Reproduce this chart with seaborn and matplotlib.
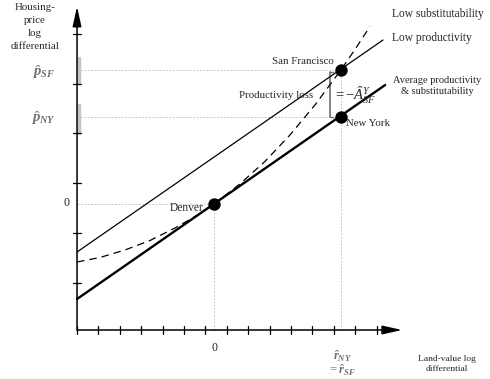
import matplotlib
matplotlib.use("Agg")
import matplotlib.pyplot as plt
import seaborn as sns
import pandas as pd

# -------------------------------------------------
# Data (x: land-value log differential, y: housing-price log differential)
# -------------------------------------------------
city_names = ["Denver", "New York", "San Francisco"]
city_x = [0.0, 5.93, 5.93]
city_y = [0.0, 1.74, 2.68]

avg_x = [-6.4, 8.0]
avg_y = [-1.90, 2.38]

lowprod_x = [-6.4, 7.9]
lowprod_y = [-0.96, 3.28]

lowsub_x = [-6.4, -5.33, -4.16, -2.99, -1.82, -0.65, 0.0, 1.21, 2.38, 3.55, 4.72, 5.93, 6.59, 7.29]
lowsub_y = [-1.16, -1.07, -0.92, -0.73, -0.48, -0.19, 0.0, 0.40, 0.85, 1.38, 1.98, 2.68, 3.09, 3.55]

axis_x0 = -6.4
axis_y0 = -2.52
axis_x_end = 8.8
axis_y_end = 3.95

x_ticks = [-6.4, -5.4, -4.4, -3.4, -2.4, -1.4, -0.4, 0.6, 1.6, 2.6, 3.6, 4.6, 5.6, 6.6, 7.6]
y_ticks = [-1.58, -0.58, 0.42, 1.42, 2.4, 3.4]

loss_x = 5.42
loss_y = [1.74, 2.64]

# gray bars on the y axis around the price differentials
bar_sf = [2.42, 2.92]
bar_ny = [1.42, 1.98]

W, H = 490, 379


def fx(px):
    return px / W


def fy(py):
    return 1 - py / H


# -------------------------------------------------
# Figure
# -------------------------------------------------
def main():
    sns.set_theme(style="white")
    plt.rcParams["font.family"] = ["Liberation Serif", "DejaVu Serif"]
    plt.rcParams["mathtext.fontset"] = "custom"
    plt.rcParams["mathtext.rm"] = "Liberation Serif"
    plt.rcParams["mathtext.it"] = "Liberation Serif:italic"
    plt.rcParams["mathtext.bf"] = "Liberation Serif:italic:bold"

    fig = plt.figure(figsize=(4.9, 3.79), dpi=100)
    ax = fig.add_axes([0, 0, 1, 1])
    ax.set_xlim(-10.0, 12.9)
    ax.set_ylim(-3.5, 4.08)
    ax.axis("off")

    guide = dict(color="#c8c8c8", lw=0.7, ls=(0, (2, 1.5)), zorder=1)
    # dotted guide lines
    ax.plot([axis_x0, city_x[0]], [city_y[0], city_y[0]], **guide)
    ax.plot([city_x[0], city_x[0]], [axis_y0, city_y[0]], **guide)
    ax.plot([axis_x0, city_x[2]], [city_y[2], city_y[2]], **guide)
    ax.plot([axis_x0, city_x[1]], [city_y[1], city_y[1]], **guide)
    ax.plot([city_x[2], city_x[2]], [axis_y0, city_y[2]], **guide)

    # gray bars on the y axis
    ax.plot([axis_x0 + 0.08] * 2, bar_sf, color="#c4c4c4", lw=2.5, zorder=2)
    ax.plot([axis_x0 + 0.08] * 2, bar_ny, color="#c4c4c4", lw=2.5, zorder=2)

    # axes with arrows
    ax.annotate("", xy=(axis_x_end, axis_y0), xytext=(axis_x0, axis_y0),
                arrowprops=dict(arrowstyle="-|>,head_length=1.0,head_width=0.22",
                                color="black", lw=1.1, shrinkA=0, shrinkB=0))
    ax.annotate("", xy=(axis_x0, axis_y_end), xytext=(axis_x0, axis_y0),
                arrowprops=dict(arrowstyle="-|>,head_length=1.0,head_width=0.22",
                                color="black", lw=1.1, shrinkA=0, shrinkB=0))
    for t in x_ticks:
        ax.plot([t, t], [axis_y0 - 0.08, axis_y0 + 0.08], color="black", lw=0.9)
    for t in y_ticks:
        ax.plot([axis_x0 - 0.18, axis_x0 + 0.18], [t, t], color="black", lw=0.9)

    # curves
    sns.lineplot(data=pd.DataFrame({"x": lowprod_x, "y": lowprod_y}), x="x", y="y",
                 ax=ax, color="black", lw=0.9, zorder=3)
    sns.lineplot(data=pd.DataFrame({"x": avg_x, "y": avg_y}), x="x", y="y",
                 ax=ax, color="black", lw=1.7, zorder=3)
    sns.lineplot(data=pd.DataFrame({"x": lowsub_x, "y": lowsub_y}), x="x", y="y",
                 ax=ax, color="black", lw=0.9, sort=False, zorder=3)
    ax.lines[-1].set_dashes((6, 4))

    # productivity-loss bracket
    ax.plot([loss_x, loss_x], loss_y, color="#707070", lw=1.2, zorder=2)
    ax.plot([loss_x, loss_x + 0.15], [loss_y[1], loss_y[1]], color="#707070", lw=1.0, zorder=2)
    ax.plot([loss_x, loss_x + 0.15], [loss_y[0], loss_y[0]], color="#707070", lw=1.0, zorder=2)

    # cities
    sns.scatterplot(x=city_x, y=city_y, ax=ax, color="black", s=80,
                    edgecolor="black", linewidth=0, zorder=5)

    fig.text(fx(35), fy(27), "Housing-\nprice\nlog\ndifferential", ha="center", va="center",
             fontsize=7.8, linespacing=1.55)
    fig.text(fx(43), fy(72), r"$\hat{\mathbf{p}}_{\mathbf{SF}}$", ha="center", va="center",
             fontsize=10.5, color="#707070")
    fig.text(fx(43), fy(118), r"$\hat{\mathbf{p}}_{\mathbf{NY}}$", ha="center", va="center",
             fontsize=10.5, color="#707070")
    fig.text(fx(66), fy(203), "0", ha="center", va="center", fontsize=8.5)
    fig.text(fx(214), fy(348), "0", ha="center", va="center", fontsize=8.5)
    fig.text(fx(343), fy(356), r"$\hat{\mathbf{r}}_{\mathbf{NY}}$", ha="center", va="center",
             fontsize=9, color="#707070")
    fig.text(fx(342), fy(370), r"$=\hat{\mathbf{r}}_{\mathbf{SF}}$", ha="center", va="center",
             fontsize=9, color="#707070")
    fig.text(fx(447), fy(364), "Land-value log\ndifferential", ha="center", va="center",
             fontsize=6.8, linespacing=1.3)

    fig.text(fx(392), fy(14), "Low substitutability", ha="left", va="center", fontsize=8.3)
    fig.text(fx(392), fy(38), "Low productivity", ha="left", va="center", fontsize=8.3)
    fig.text(fx(437), fy(86), "Average productivity\n& substitutability", ha="center",
             va="center", fontsize=7.5, linespacing=1.4)
    fig.text(fx(334), fy(62), city_names[2], ha="right", va="center", fontsize=7.8)
    fig.text(fx(346), fy(123), city_names[1], ha="left", va="center", fontsize=7.8)
    fig.text(fx(204), fy(208), city_names[0], ha="right", va="center", fontsize=8.3)
    fig.text(fx(313), fy(96), "Productivity loss", ha="right", va="center", fontsize=7.8)
    fig.text(fx(333), fy(95), r"$= -\hat{A}^{Y}_{SF}$", ha="left", va="center", fontsize=10.5)

    fig.savefig("out.png", dpi=100)
    plt.close(fig)


if __name__ == "__main__":
    main()
